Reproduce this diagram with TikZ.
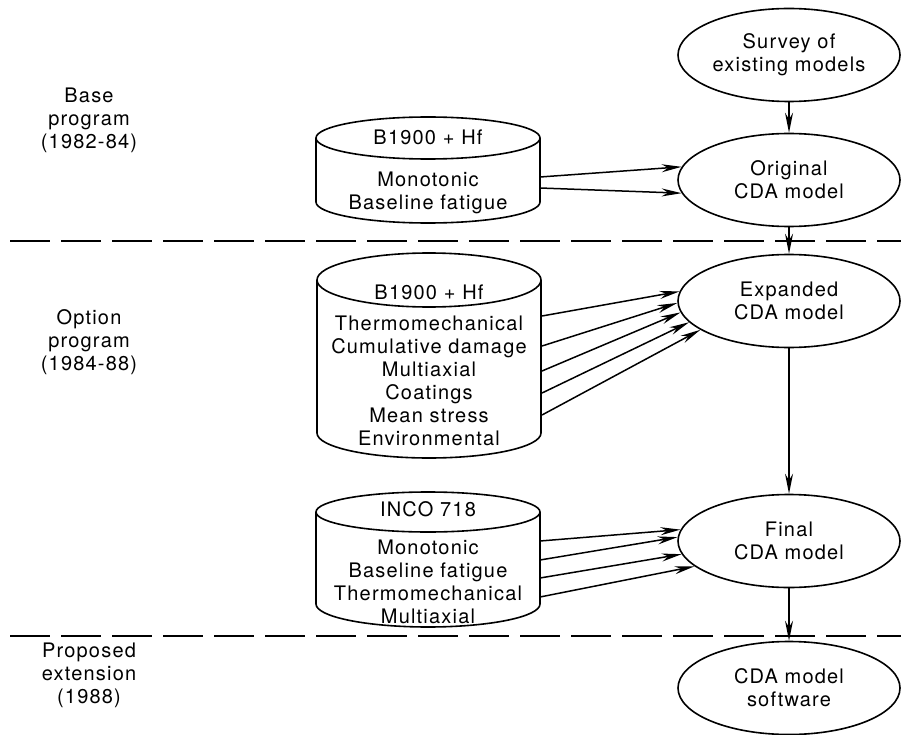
\documentclass[tikz,border=0pt]{standalone}
\usepackage{fontspec}
\setmainfont{TeX Gyre Heros}[LetterSpace=6]
\usetikzlibrary{arrows.meta,shapes.geometric}

\tikzset{
  model/.style={ellipse, draw, line width=1.6pt, minimum width=222pt,
    minimum height=93pt, inner sep=0pt, align=center},
  phase/.style={align=center},
  flow/.style={line width=1.5pt, -{Stealth[length=20pt,width=8pt]}},
  divider/.style={line width=1.3pt, dash pattern=on 40pt off 11pt}
}

% drum: centre x, top y, bottom y, top radius, bottom radius
\newcommand{\drum}[5]{%
  \draw[line width=1.6pt] (#1,#2) ellipse (112pt and #4pt);
  \draw[line width=1.6pt] (#1-112,#2) -- (#1-112,#3)
    arc (180:360:112pt and #5pt) -- (#1+112,#2);
}

\begin{document}
\begin{tikzpicture}[x=1pt, y=-1pt, font=\fontsize{20}{23}\selectfont]
  \useasboundingbox (0,0) rectangle (901,735);

  % phase borders
  \draw[divider] (10,241) -- (901,241);
  \draw[divider] (10,636) -- (901,636);

  % phases
  \node[phase] (base) at (89,120) {Base\\program\\(1982-84)};
  \node[phase] (option) at (89,342) {Option\\program\\(1984-88)};
  \node[phase] (proposed) at (89,675) {Proposed\\extension\\(1988)};

  % models
  \node[model] (survey) at (789,55) {Survey of\\existing models};
  \node[model] (orig) at (789,180) {Original\\CDA model};
  \node[model] (expd) at (789,301) {Expanded\\CDA model};
  \node[model] (final) at (789,541) {Final\\CDA model};
  \node[model] (soft) at (789,688) {CDA model\\software};

  \draw[flow] (survey) -- (orig);
  \draw[flow] (orig) -- (expd);
  \draw[flow] (expd) -- (final);
  \draw[flow] (final) -- (soft);

  % test data
  \drum{428}{138}{202}{21}{21}
  \node (alloyA) at (428,137) {B1900 + Hf};
  \node[phase] (testsA) at (428,193) {Monotonic\\Baseline fatigue};

  \drum{429}{280}{433}{27}{25}
  \node (alloyB) at (429,292) {B1900 + Hf};
  \node[phase] (testsB) at (429,381) {Thermomechanical\\Cumulative damage\\Multiaxial\\Coatings\\Mean stress\\Environmental};

  \drum{428}{512}{604}{20}{23}
  \node (alloyC) at (428,509) {INCO 718};
  \node[phase] (testsC) at (428,582) {Monotonic\\Baseline fatigue\\Thermomechanical\\Multiaxial};

  \foreach \y/\a [count=\i] in {177/173, 188/187} {
    \coordinate (outA\i) at (540,\y);
    \draw[flow] (outA\i) -- (orig.\a);
  }
  \foreach \y/\a [count=\i] in {316/175.3, 346/181, 371/186.4, 393/192, 415/198.5} {
    \coordinate (outB\i) at (542,\y);
    \draw[flow] (outB\i) -- (expd.\a);
  }
  \foreach \y/\a [count=\i] in {541/174.2, 560/178.4, 578/187.5, 597/195.8} {
    \coordinate (outC\i) at (540,\y);
    \draw[flow] (outC\i) -- (final.\a);
  }
\end{tikzpicture}
\end{document}
